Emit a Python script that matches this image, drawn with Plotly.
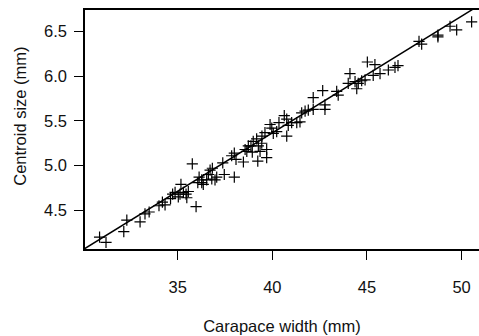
import plotly.graph_objects as go

# Carapace width (mm)
carapace_width = [
    30.87, 31.21, 32.15, 32.31, 33.01, 33.27, 33.49, 34.01, 34.19, 34.33,
    34.62, 34.73, 34.86, 35.17, 35.12, 35.30, 35.44, 35.56, 35.97, 36.27,
    36.35, 35.03, 35.48,
    35.77, 36.13, 36.27, 36.06, 36.53, 36.62, 36.71, 36.83, 36.80, 36.97,
    37.06, 37.46, 37.99, 37.38, 37.85, 37.99, 38.08, 38.47, 39.23, 38.65,
    38.87, 38.99, 39.17, 38.94, 38.56, 38.73, 39.45, 39.61, 39.70, 39.26,
    39.44, 39.35, 39.70,
    39.88, 39.97, 40.05, 40.23, 40.35, 40.63, 40.76, 40.84, 40.76, 41.02,
    41.29, 41.46, 41.55, 41.73, 41.90, 42.16, 42.66, 42.78, 42.78, 43.40,
    43.48, 42.16,
    44.01, 44.10, 44.37, 44.46, 44.54, 44.72, 44.90, 45.02, 45.33, 45.42,
    45.69, 46.13, 46.48, 46.64,
    47.75, 47.89, 48.75, 48.75, 49.39, 49.74, 50.53,
]

# Centroid size (mm)
centroid_size = [
    4.20, 4.14, 4.26, 4.39, 4.37, 4.46, 4.48, 4.55, 4.59, 4.56,
    4.63, 4.68, 4.70, 4.79, 4.68, 4.70, 4.68, 4.71, 4.54, 4.81,
    4.79, 4.65, 4.64,
    5.02, 4.87, 4.84, 4.81, 4.84, 4.90, 4.95, 4.97, 4.85, 4.84,
    4.87, 4.90, 4.87, 5.03, 5.11, 5.14, 5.07, 5.04, 5.05, 5.16,
    5.22, 5.27, 5.30, 5.15, 5.18, 5.22, 5.33, 5.37, 5.18, 5.22,
    5.25, 5.16, 5.09,
    5.46, 5.42, 5.36, 5.38, 5.48, 5.56, 5.52, 5.45, 5.33, 5.48,
    5.48, 5.49, 5.59, 5.61, 5.62, 5.76, 5.84, 5.68, 5.63, 5.83,
    5.79, 5.63,
    5.92, 6.03, 5.94, 5.86, 5.92, 5.95, 5.96, 6.16, 6.01, 6.13,
    6.03, 6.07, 6.10, 6.12,
    6.39, 6.36, 6.46, 6.44, 6.56, 6.52, 6.61,
]

# Fitted line: centroid = intercept + slope * width
fit_intercept = 0.138
fit_slope = 0.1307
fit_x = [29.0, 52.0]
fit_y = [fit_intercept + fit_slope * v for v in fit_x]

x_ticks = [35, 40, 45, 50]
y_ticks = [4.5, 5.0, 5.5, 6.0, 6.5]

FONT = "Arial, 'Liberation Sans', sans-serif"
TEXT = "#111111"
FS = 16.5

fig = go.Figure()
fig.add_trace(go.Scatter(
    x=fit_x, y=fit_y, mode="lines",
    line=dict(color="black", width=1.5),
    showlegend=False, hoverinfo="skip",
))
fig.add_trace(go.Scatter(
    x=carapace_width, y=centroid_size, mode="markers",
    marker=dict(symbol="cross-thin", size=8,
                line=dict(color="black", width=1.2), color="black"),
    showlegend=False,
))

fig.update_layout(
    width=479, height=336,
    margin=dict(l=85, r=0, t=10, b=86.5),
    paper_bgcolor="white", plot_bgcolor="white",
    font=dict(family=FONT, size=FS, color=TEXT),
    xaxis=dict(
        range=[30.10, 50.92],
        tickvals=x_ticks, ticktext=[str(v) for v in x_ticks],
        ticks="outside", ticklen=9, tickwidth=1.3, tickcolor="black",
        ticklabelstandoff=13,
        showline=True, linecolor="black", linewidth=1.5, mirror=True,
        showgrid=False, zeroline=False,
        title=dict(text="Carapace width (mm)", standoff=26,
                   font=dict(family=FONT, size=FS, color=TEXT)),
    ),
    yaxis=dict(
        range=[4.066, 6.742],
        tickvals=y_ticks, ticktext=[f"{v:.1f}" for v in y_ticks],
        ticks="outside", ticklen=9, tickwidth=1.3, tickcolor="black",
        ticklabelstandoff=4,
        showline=True, linecolor="black", linewidth=1.5, mirror=False,
        showgrid=False, zeroline=False,
    ),
    annotations=[dict(
        text="Centroid size (mm)", xref="paper", yref="paper",
        x=-85/394, xanchor="left", xshift=9,
        y=(249.5 - 117) / 239.5, yanchor="middle",
        textangle=-90, showarrow=False,
        font=dict(family=FONT, size=FS, color=TEXT),
    )],
)

fig.write_html("out.html")
